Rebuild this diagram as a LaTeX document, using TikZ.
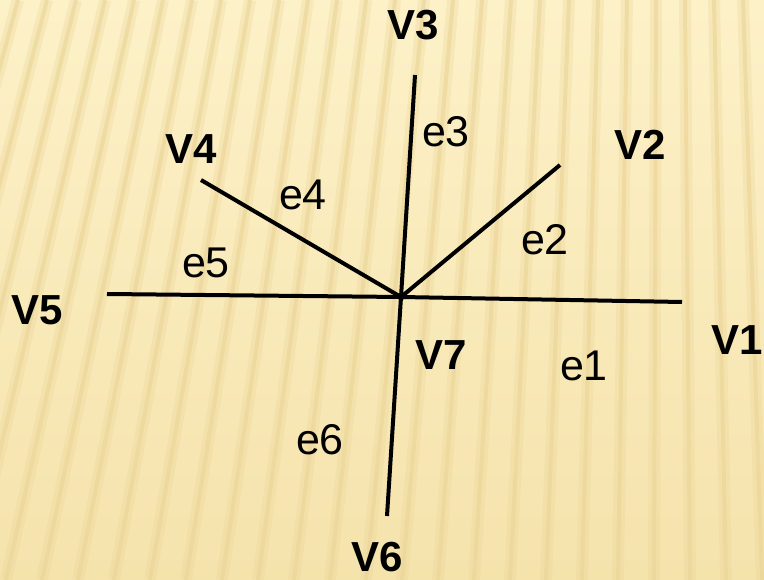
\documentclass[tikz,border=0pt]{standalone}
\usepackage{fontspec}
\setmainfont{Liberation Sans}
\usepackage{tikz}
\usetikzlibrary{calc,positioning}
\definecolor{paper}{HTML}{FDF1C8}
\definecolor{paperdark}{HTML}{F5E3AC}
\definecolor{stripe}{HTML}{EBD597}
\tikzset{
  edge line/.style = {line width=4pt, black},
  vlabel/.style    = {font=\fontsize{42}{46}\selectfont\bfseries, inner sep=0pt},
  elabel/.style    = {font=\fontsize{43}{46}\selectfont, inner sep=0pt},
  stripe soft/.style  = {line width=12pt, stripe, opacity=0.3},
  stripe core/.style  = {line width=4pt, stripe, opacity=0.6},
}

\begin{document}
\begin{tikzpicture}[x=1pt,y=-1pt]
  \useasboundingbox (0,0) rectangle (764,580);

  % background paper
  \shade[top color=paper, bottom color=paperdark] (0,0) rectangle (764,580);
  \begin{scope}
    \clip (0,0) rectangle (764,580);
    \foreach \i in {0,...,28} {
      \draw[stripe soft] (\i*29-40,0) -- (\i*36-210,580);
      \draw[stripe core] (\i*29-40,0) -- (\i*36-210,580);
    }
  \end{scope}

  % end points
  \coordinate (c)  at (401,297);
  \coordinate (p1) at (682,302);
  \coordinate (p2) at (560,165);
  \coordinate (p3) at (415,75);
  \coordinate (p4) at (201,180);
  \coordinate (p5) at (107,294);
  \coordinate (p6) at (387,516);

  % edges
  \foreach \p in {p1,p2,p3,p4,p5,p6}
    \draw[edge line] (c) -- (\p);
  \fill (c) circle (3.5pt);

  % vertex labels
  \node[vlabel] (v1) at (737,340) {V1};
  \node[vlabel] (v2) at (640,145) {V2};
  \node[vlabel] (v3) at (413,25)  {V3};
  \node[vlabel] (v4) at (191,149) {V4};
  \node[vlabel] (v5) at (37,310)  {V5};
  \node[vlabel] (v6) at (377,557) {V6};
  \node[vlabel] (v7) at (441,355) {V7};

  % edge labels
  \node[elabel] (e1) at (584,366) {e1};
  \node[elabel] (e2) at (545,240) {e2};
  \node[elabel] (e3) at (446,132) {e3};
  \node[elabel] (e4) at (303,195) {e4};
  \node[elabel] (e5) at (206,263) {e5};
  \node[elabel] (e6) at (320,440) {e6};
\end{tikzpicture}
\end{document}
